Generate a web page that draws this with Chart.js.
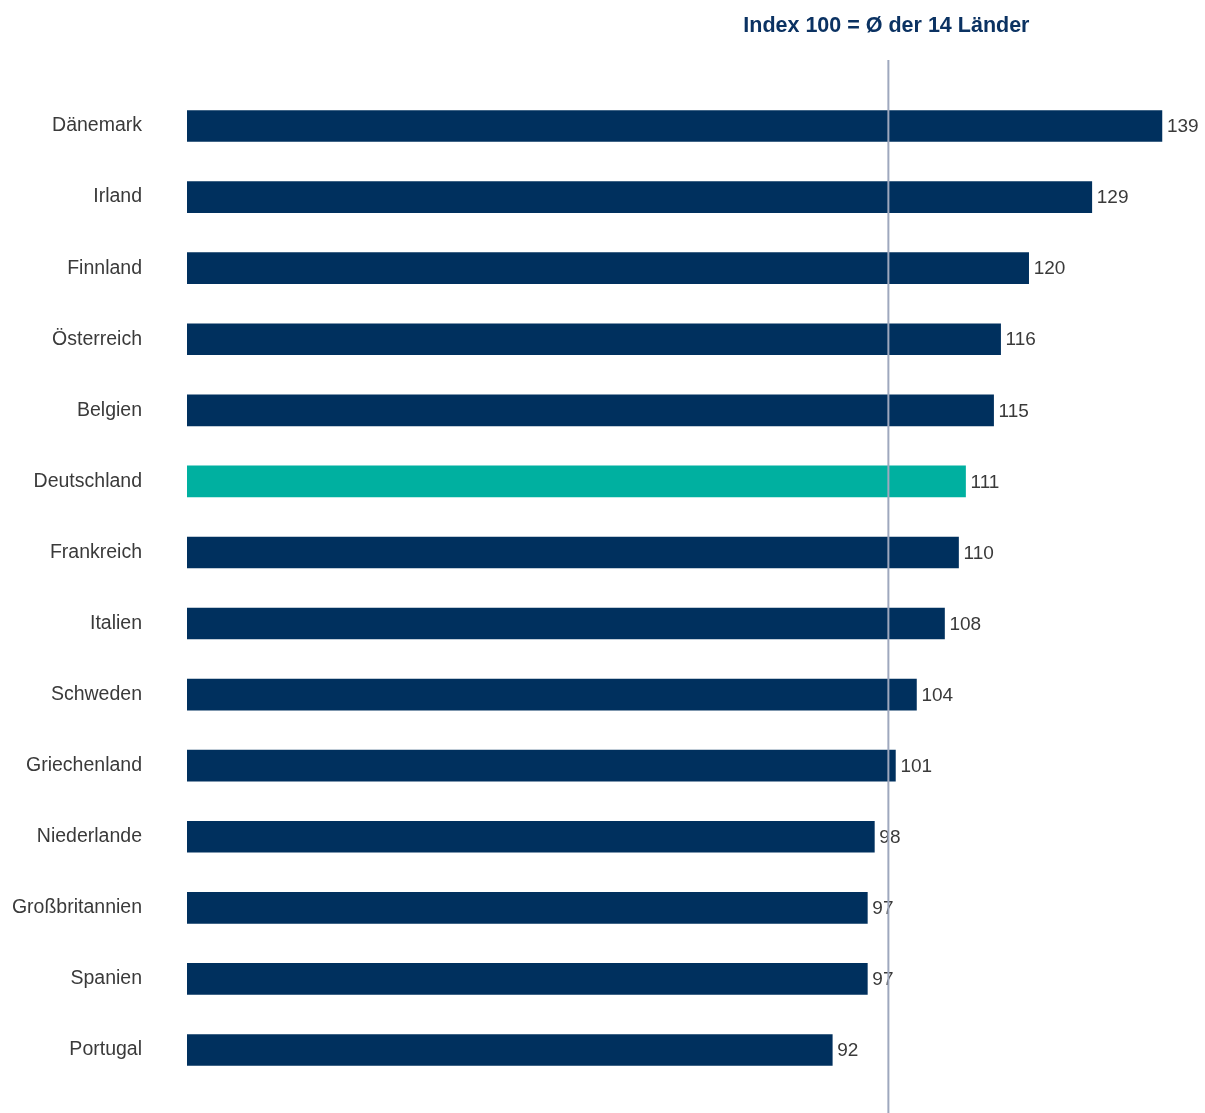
<!DOCTYPE html>
<html lang="de">
<head>
  <meta charset="UTF-8" />
  <title>Index 100 = Ø der 14 Länder</title>
  <script src="https://cdn.jsdelivr.net/npm/chart.js"></script>
  <style>
    html, body { margin: 0; padding: 0; background: #fff; overflow: hidden; }
    canvas { display: block; }
  </style>
</head>
<body>
  <canvas id="chart" width="1205" height="1113"></canvas>

  <script>
    const laender = ["Dänemark", "Irland", "Finnland", "Österreich", "Belgien", "Deutschland",
      "Frankreich", "Italien", "Schweden", "Griechenland", "Niederlande", "Großbritannien",
      "Spanien", "Portugal"];
    const indexWerte = [139, 129, 120, 116, 115, 111, 110, 108, 104, 101, 98, 97, 97, 92];
    const titel = "Index 100 = Ø der 14 Länder";
    const referenzWert = 100;

    const dunkelblau = "#00305e";
    const tuerkis = "#00b0a0";
    const farben = laender.map(l => l === "Deutschland" ? tuerkis : dunkelblau);

    // Werte rechts neben die Balken schreiben
    const wertLabels = {
      id: "wertLabels",
      afterDatasetsDraw(chart) {
        const ctx = chart.ctx;
        const meta = chart.getDatasetMeta(0);
        ctx.save();
        ctx.font = "19px 'Liberation Sans', Arial, sans-serif";
        ctx.fillStyle = "#3a3a3a";
        ctx.textAlign = "left";
        ctx.textBaseline = "middle";
        meta.data.forEach((bar, i) => {
          ctx.fillText(indexWerte[i], bar.x + 5, bar.y + 1);
        });
        ctx.restore();
      }
    };

    // Referenzlinie bei 100 und Überschrift
    const referenz = {
      id: "referenz",
      afterDraw(chart) {
        const ctx = chart.ctx;
        const x = chart.scales.x.getPixelForValue(referenzWert);
        ctx.save();
        ctx.strokeStyle = "#9ea8be";
        ctx.lineWidth = 2;
        ctx.beginPath();
        ctx.moveTo(x, 60);
        ctx.lineTo(x, chart.height);
        ctx.stroke();

        ctx.font = "bold 21.5px 'Liberation Sans', Arial, sans-serif";
        ctx.fillStyle = "#0b3262";
        ctx.textAlign = "center";
        ctx.textBaseline = "middle";
        ctx.fillText(titel, x - 2, 26);
        ctx.restore();
      }
    };

    new Chart(document.getElementById("chart"), {
      type: "bar",
      data: {
        labels: laender,
        datasets: [{
          data: indexWerte,
          backgroundColor: farben,
          barThickness: 31,
          borderWidth: 0
        }]
      },
      options: {
        indexAxis: "y",
        responsive: false,
        animation: false,
        layout: {
          padding: { top: 90.5, bottom: 27.5, left: 0, right: 1 }
        },
        plugins: {
          legend: { display: false },
          tooltip: { enabled: false }
        },
        scales: {
          x: {
            display: false,
            min: 0,
            max: 145
          },
          y: {
            grid: { display: false, drawTicks: false },
            border: { display: false },
            afterFit(scale) {
              scale.width = 187;
              scale.paddingTop = 0;
              scale.paddingBottom = 0;
            },
            ticks: {
              padding: 45,
              color: "#3a3a3a",
              font: { family: "'Liberation Sans', Arial, sans-serif", size: 19.5 }
            }
          }
        }
      },
      plugins: [wertLabels, referenz]
    });
  </script>
</body>
</html>
